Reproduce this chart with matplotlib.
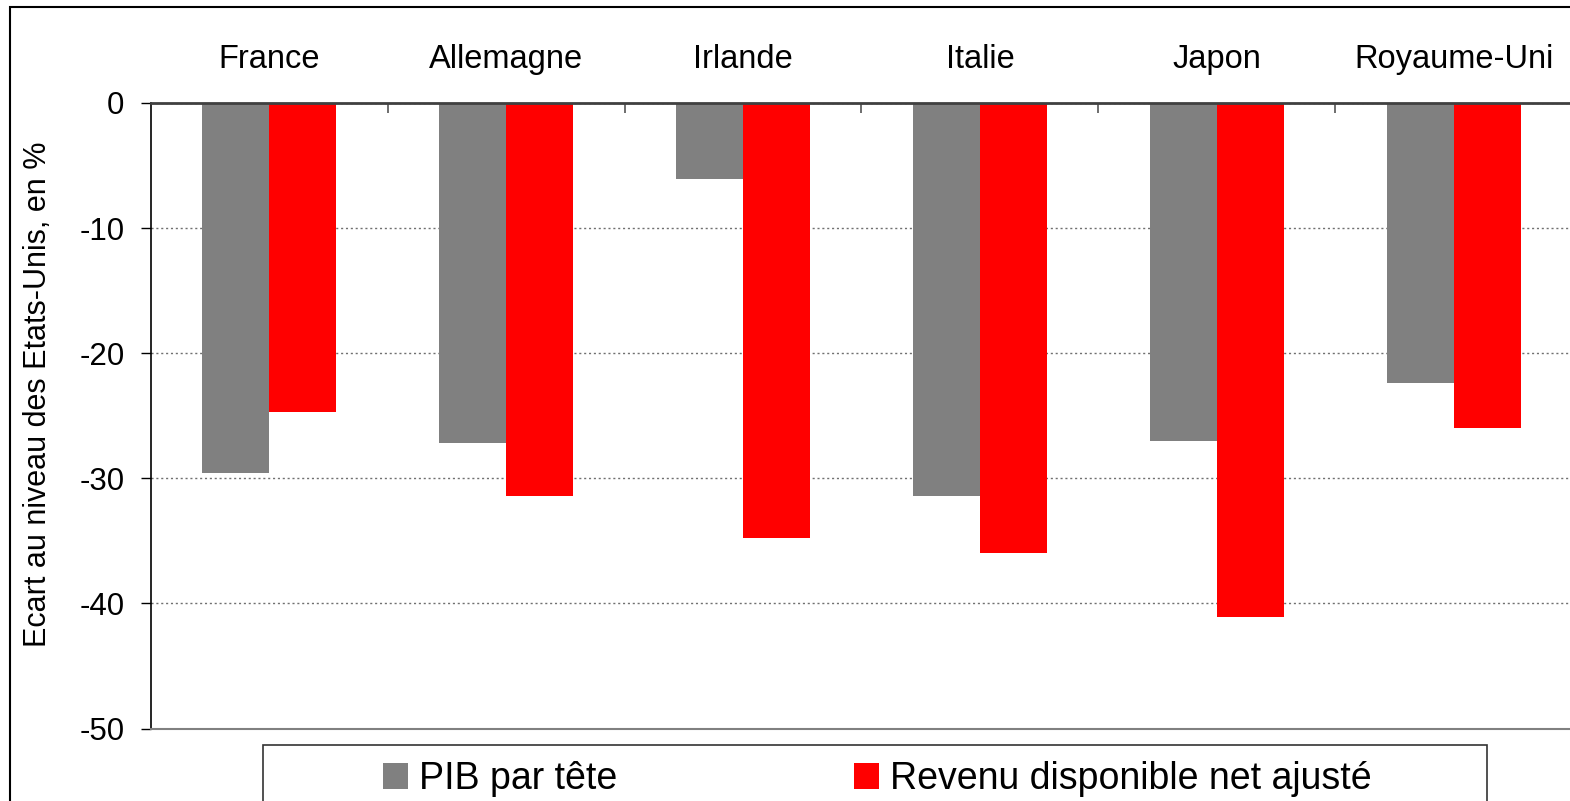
import matplotlib.pyplot as plt
import matplotlib.patches as mpatches
import numpy as np

plt.rcParams["font.family"] = ["Liberation Sans", "DejaVu Sans"]

# données (écart au niveau des Etats-Unis, en %)
pays = ["France", "Allemagne", "Irlande", "Italie", "Japon", "Royaume-Uni"]
pib = [-29.6, -27.2, -6.1, -31.4, -27.0, -22.4]
revenu = [-24.7, -31.4, -34.8, -36.0, -41.1, -26.0]
noms_series = ["PIB par tête", "Revenu disponible net ajusté"]
y_ticks = [0, -10, -20, -30, -40, -50]

W, H = 1570, 801
fig = plt.figure(figsize=(W / 100, H / 100), dpi=100)

# axe qui déborde à droite, comme dans l'original
left, right, top, bottom = 151, 1572, 103, 728.5
ax = fig.add_axes([left / W, 1 - bottom / H, (right - left) / W, (bottom - top) / H])

x = np.arange(len(pays))
w = 0.283
b1 = ax.bar(x - w / 2, pib, width=w, color="#808080", label=noms_series[0], zorder=3)
b2 = ax.bar(x + w / 2, revenu, width=w, color="#FF0000", label=noms_series[1], zorder=3)

ax.set_xlim(-0.5, len(pays) - 0.5)
ax.set_ylim(-50, 0)
ax.set_yticks(y_ticks)
ax.set_yticklabels([str(v) for v in y_ticks], fontsize=22.5)
ax.tick_params(axis="y", direction="out", length=7, width=1, pad=12)

# noms des pays en haut
ax.set_xticks(x)
ax.set_xticklabels(pays, fontsize=23.5)
ax.tick_params(axis="x", which="major", bottom=False, top=False, labelbottom=False,
               labeltop=True, pad=20, length=0)
ax.set_xticks(x[:-1] + 0.5, minor=True)
ax.tick_params(axis="x", which="minor", top=True, bottom=False, direction="in",
               length=7, width=1.2, color="#555555")

ax.yaxis.grid(True, linestyle=(0, (1.5, 2)), color="#707070", linewidth=1, zorder=0)

ax.spines["top"].set_color("#404040")
ax.spines["top"].set_linewidth(2)
ax.spines["top"].set_zorder(4)
ax.spines["left"].set_color("black")
ax.spines["left"].set_linewidth(1.2)
ax.spines["bottom"].set_color("#808080")
ax.spines["bottom"].set_linewidth(1.5)
ax.spines["right"].set_visible(False)

ax.set_ylabel("Ecart au niveau des Etats-Unis, en %", fontsize=22)
ax.yaxis.set_label_coords(-0.069, 0.534)

# légende en bas, dans un cadre coupé par le bord
fig.legend(handles=[b1, b2], loc="center left", bbox_to_anchor=(383 / W, 1 - 779 / H),
           ncol=2, frameon=False, fontsize=27, borderpad=0, handlelength=0.67,
           handleheight=0.67, handletextpad=0.29, columnspacing=6.3, borderaxespad=0)
fig.patches.append(mpatches.Rectangle((263 / W, -0.05), (1487 - 263) / W, 1 - 745 / H + 0.05,
                                      transform=fig.transFigure, fill=False,
                                      edgecolor="#333333", linewidth=1.2))
# cadre extérieur
fig.patches.append(mpatches.Rectangle((10 / W, -0.1), 1.2, 1 - 7 / H + 0.1,
                                      transform=fig.transFigure, fill=False,
                                      edgecolor="black", linewidth=1.5))

fig.savefig("out.png", dpi=100)
